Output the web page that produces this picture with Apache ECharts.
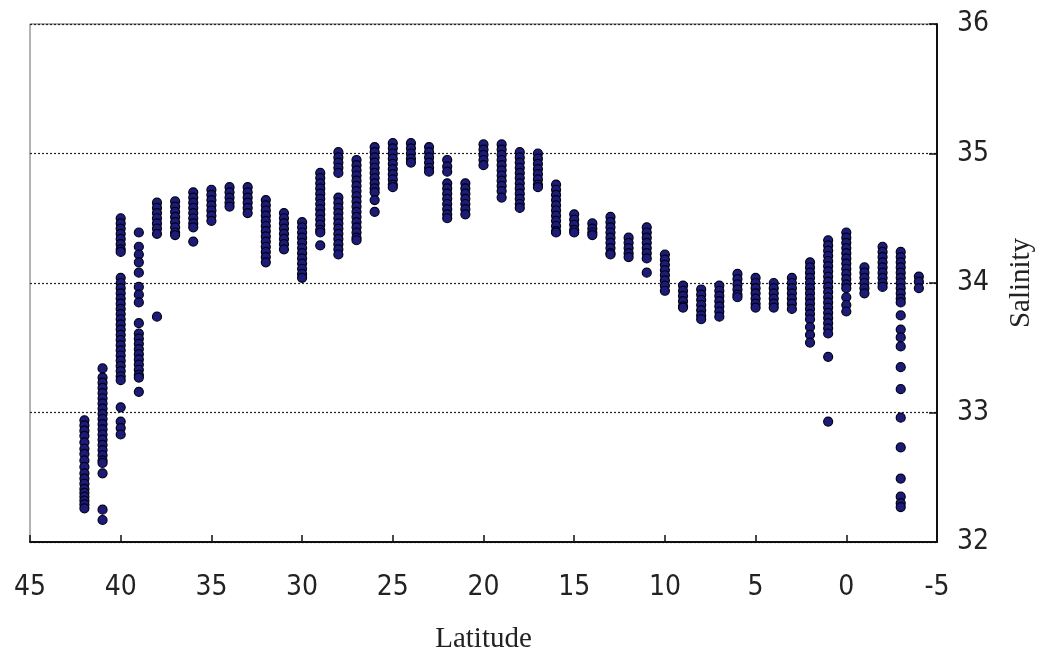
<!DOCTYPE html>
<html><head><meta charset="utf-8">
<script src="https://cdn.jsdelivr.net/npm/echarts@6/dist/echarts.min.js"></script>
<style>html,body{margin:0;padding:0;background:#fff}#c{width:1039px;height:657px}</style>
</head><body><div id="c"></div>
<script>
const xTicks = [45, 40, 35, 30, 25, 20, 15, 10, 5, 0, -5];
const yTicks = [32, 33, 34, 35, 36];
const latitudes = [42,41,40,39,38,37,36,35,34,33,32,31,30,29,28,27,26,25,24,23,22,21,20,19,18,17,16,15,14,13,12,11,10,9,8,7,6,5,4,3,2,1,0,-1,-2,-3,-4];
const salinityByLat = [
 [32.94,32.90,32.86,32.82,32.77,32.72,32.68,32.63,32.58,32.53,32.49,32.45,32.41,32.38,32.35,32.32,32.29,32.26],
 [33.34,33.27,33.23,33.19,33.15,33.11,33.07,33.03,32.99,32.95,32.91,32.87,32.83,32.79,32.75,32.71,32.67,32.63,32.61,32.53,32.25,32.17],
 [34.50,34.46,34.42,34.38,34.34,34.30,34.26,34.24,34.04,34.00,33.96,33.92,33.88,33.84,33.80,33.76,33.72,33.68,33.64,33.60,33.56,33.52,33.48,33.44,33.40,33.36,33.32,33.28,33.25,33.04,32.93,32.88,32.83],
 [34.39,34.28,34.22,34.16,34.08,33.97,33.91,33.85,33.69,33.61,33.57,33.53,33.49,33.45,33.41,33.37,33.33,33.29,33.27,33.16],
 [34.62,34.58,34.54,34.50,34.46,34.42,34.38,33.74],
 [34.63,34.59,34.55,34.51,34.47,34.43,34.39,34.37],
 [34.70,34.66,34.62,34.58,34.54,34.50,34.46,34.43,34.32],
 [34.72,34.68,34.64,34.60,34.56,34.52,34.48],
 [34.74,34.70,34.66,34.62,34.59],
 [34.74,34.70,34.66,34.62,34.58,34.54],
 [34.64,34.60,34.56,34.52,34.48,34.44,34.40,34.36,34.32,34.28,34.24,34.20,34.16],
 [34.54,34.50,34.46,34.42,34.38,34.34,34.30,34.26],
 [34.47,34.43,34.39,34.35,34.31,34.27,34.23,34.19,34.15,34.11,34.07,34.04],
 [34.85,34.81,34.77,34.73,34.69,34.65,34.61,34.57,34.53,34.49,34.45,34.41,34.39,34.29],
 [35.01,34.97,34.93,34.89,34.85,34.66,34.62,34.58,34.54,34.50,34.46,34.42,34.38,34.34,34.30,34.26,34.22],
 [34.95,34.91,34.87,34.83,34.79,34.75,34.71,34.67,34.63,34.59,34.55,34.51,34.47,34.43,34.39,34.35,34.33],
 [35.05,35.01,34.97,34.93,34.89,34.85,34.81,34.77,34.73,34.70,34.64,34.55],
 [35.08,35.04,35.00,34.96,34.92,34.88,34.84,34.80,34.76,34.74],
 [35.08,35.04,35.00,34.96,34.93],
 [35.05,35.01,34.97,34.93,34.89,34.86],
 [34.95,34.90,34.86,34.77,34.73,34.69,34.65,34.61,34.57,34.53,34.50],
 [34.77,34.73,34.69,34.65,34.61,34.57,34.53],
 [35.07,35.03,34.99,34.95,34.91],
 [35.07,35.03,34.99,34.95,34.91,34.87,34.83,34.79,34.75,34.71,34.66],
 [35.01,34.97,34.93,34.89,34.85,34.81,34.77,34.73,34.69,34.65,34.61,34.58],
 [35.00,34.96,34.92,34.88,34.84,34.80,34.76,34.74],
 [34.76,34.72,34.68,34.64,34.60,34.56,34.52,34.48,34.44,34.40,34.39],
 [34.53,34.49,34.45,34.41,34.39],
 [34.46,34.42,34.39,34.37],
 [34.51,34.47,34.43,34.39,34.35,34.31,34.27,34.23,34.22],
 [34.35,34.31,34.27,34.23,34.20],
 [34.43,34.39,34.35,34.31,34.27,34.23,34.19,34.08],
 [34.22,34.18,34.14,34.10,34.06,34.02,33.98,33.94],
 [33.98,33.94,33.90,33.86,33.82,33.81],
 [33.95,33.91,33.87,33.83,33.79,33.75,33.72],
 [33.98,33.94,33.90,33.86,33.82,33.78,33.74],
 [34.07,34.03,33.99,33.95,33.91,33.89],
 [34.04,34.00,33.96,33.92,33.88,33.84,33.81],
 [34.00,33.96,33.92,33.88,33.84,33.81],
 [34.04,34.00,33.96,33.92,33.88,33.84,33.80],
 [34.16,34.12,34.08,34.04,34.00,33.96,33.92,33.88,33.84,33.80,33.76,33.72,33.66,33.60,33.54],
 [34.33,34.29,34.25,34.21,34.17,34.13,34.09,34.05,34.01,33.97,33.93,33.89,33.85,33.81,33.77,33.73,33.69,33.65,33.61,33.43,32.93],
 [34.39,34.35,34.31,34.27,34.23,34.19,34.15,34.11,34.07,34.03,33.99,33.96,33.89,33.83,33.78],
 [34.12,34.08,34.04,34.00,33.96,33.92],
 [34.28,34.24,34.20,34.16,34.12,34.08,34.04,34.00,33.97],
 [34.24,34.20,34.16,34.12,34.08,34.04,34.00,33.96,33.92,33.88,33.85,33.75,33.64,33.58,33.51,33.35,33.18,32.96,32.73,32.49,32.35,32.30,32.27],
 [34.05,34.01,33.96]
];

const points = [];
latitudes.forEach((lat, i) => salinityByLat[i].forEach(s => points.push([lat, s])));

const chart = echarts.init(document.getElementById('c'), null, {renderer: 'canvas'});
const tickFont = {fontFamily: '"Liberation Sans Narrow", "DejaVu Sans Condensed", sans-serif', fontSize: 28, color: '#222'};
const nameFont = {fontFamily: '"Liberation Serif", serif', fontSize: 29, color: '#222'};
chart.setOption({
  animation: false,
  backgroundColor: '#fff',
  grid: {left: 30, right: 102, top: 24, bottom: 115, show: true, borderColor: '#666', borderWidth: 1,
         backgroundColor: 'transparent', containLabel: false, outerBoundsMode: 'none'},
  xAxis: {
    type: 'value', inverse: true, min: xTicks[xTicks.length - 1], max: xTicks[0], interval: 5,
    name: 'Latitude', nameLocation: 'middle', nameGap: 83, nameTextStyle: nameFont,
    axisLine: {show: true, onZero: false, lineStyle: {color: '#111', width: 2}},
    axisTick: {show: true, inside: true, length: 7, lineStyle: {color: '#111', width: 1.5}},
    axisLabel: Object.assign({margin: 32}, tickFont),
    splitLine: {show: false}
  },
  yAxis: {
    type: 'value', position: 'right', min: yTicks[0], max: yTicks[yTicks.length - 1], interval: 1,
    name: 'Salinity', nameLocation: 'middle', nameGap: 70, nameRotate: 90, nameTextStyle: nameFont,
    axisLine: {show: true, onZero: false, lineStyle: {color: '#111', width: 2}},
    axisTick: {show: true, inside: true, length: 8, lineStyle: {color: '#111', width: 1.5}},
    axisLabel: Object.assign({margin: 20, align: 'left'}, tickFont),
    splitLine: {show: true, lineStyle: {color: '#222', type: [2, 2], width: 1.2}}
  },
  series: [{
    type: 'scatter', data: points, symbol: 'circle', symbolSize: 9,
    itemStyle: {color: '#1c1c78', borderColor: '#000015', borderWidth: 1.2, opacity: 1}
  }]
});
</script>
</body></html>
